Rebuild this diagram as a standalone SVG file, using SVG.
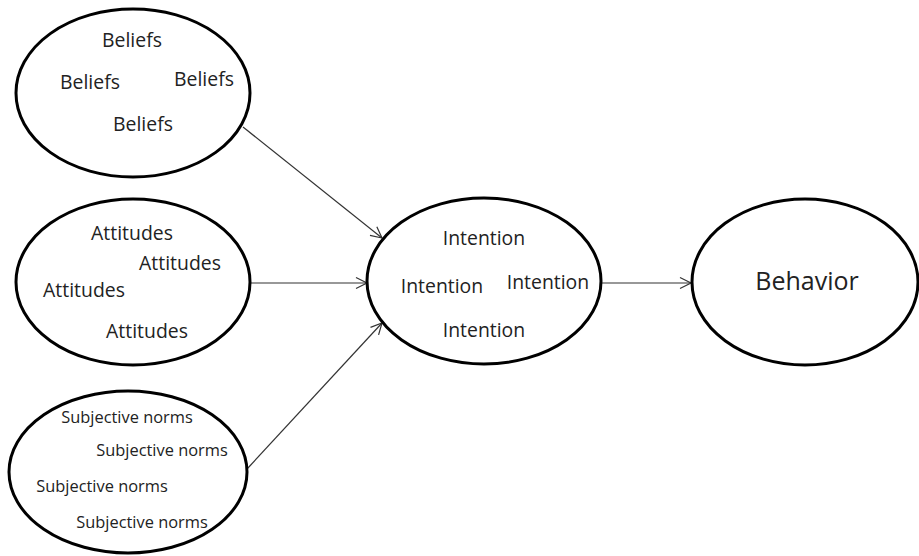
<svg xmlns="http://www.w3.org/2000/svg" width="919" height="556" viewBox="0 0 919 556">
<style>
.n ellipse{fill:#fff;stroke:#000;stroke-width:3}
.n text{font-family:"Open Sans","Liberation Sans",sans-serif;fill:#222;text-anchor:middle;font-size:19.4px}
.n .s{font-size:16.4px}
.n .b{font-size:25px}
#connectors line{stroke:#333;stroke-width:1.2;fill:none;marker-end:url(#arr)}
</style>
<defs>
<marker id="arr" markerUnits="userSpaceOnUse" markerWidth="14" markerHeight="14" viewBox="0 0 14 14" refX="12" refY="7" orient="auto">
<path d="M1,1.5 L12,7 L1,12.5" fill="none" stroke="#333" stroke-width="1.2"/>
</marker>
</defs>
<rect width="919" height="556" fill="#fff"/>
<g id="connectors">
<line x1="243" y1="127" x2="382" y2="238"/>
<line x1="251" y1="283" x2="367" y2="283"/>
<line x1="247" y1="469" x2="382" y2="323"/>
<line x1="602" y1="283" x2="691" y2="283"/>
</g>
<g id="beliefs" class="n">
<ellipse cx="133" cy="93" rx="117" ry="84"/>
<text x="132" y="47">Beliefs</text>
<text x="90" y="89">Beliefs</text>
<text x="204" y="86">Beliefs</text>
<text x="143" y="131">Beliefs</text>
</g>
<g id="attitudes" class="n">
<ellipse cx="133" cy="282" rx="117" ry="83"/>
<text x="132" y="240">Attitudes</text>
<text x="180" y="270">Attitudes</text>
<text x="84" y="297">Attitudes</text>
<text x="147" y="338">Attitudes</text>
</g>
<g id="subjective" class="n">
<ellipse cx="128" cy="472" rx="119" ry="81"/>
<text class="s" x="127" y="423">Subjective norms</text>
<text class="s" x="162" y="456">Subjective norms</text>
<text class="s" x="102" y="492">Subjective norms</text>
<text class="s" x="142" y="528">Subjective norms</text>
</g>
<g id="intention" class="n">
<ellipse cx="484" cy="281" rx="117" ry="83"/>
<text x="484" y="245">Intention</text>
<text x="442" y="293">Intention</text>
<text x="548" y="289">Intention</text>
<text x="484" y="337">Intention</text>
</g>
<g id="behavior" class="n">
<ellipse cx="805" cy="282" rx="113" ry="83"/>
<text class="b" x="807" y="290">Behavior</text>
</g>
</svg>
